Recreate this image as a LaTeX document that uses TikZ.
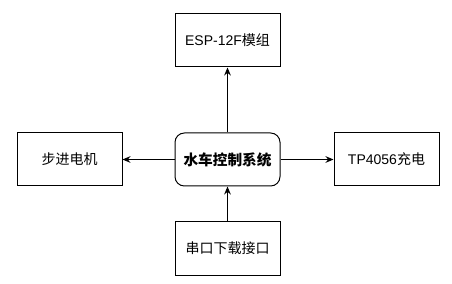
\documentclass[tikz,border=0pt]{standalone}
\usepackage{fontspec}
\setmainfont{Liberation Sans}
\newfontfamily\cjk{Noto Sans CJK SC}
\usetikzlibrary{arrows.meta}
\begin{document}
\begin{tikzpicture}[x=0.75pt,y=-0.75pt,
  blk/.style={draw=black,line width=0.75pt,minimum width=105*0.75pt,minimum height=53*0.75pt,inner sep=0pt,font=\fontsize{10.5pt}{12pt}\selectfont},
  ctr/.style={blk,rounded corners=7pt,font=\fontsize{11pt}{13pt}\selectfont\bfseries},
  arr/.style={draw=black,line width=0.75pt,-{Stealth[length=6pt,width=5pt]}}]
\useasboundingbox (0,0) rectangle (452,284);
\node[ctr] (c) at (227.5,159.5) {\cjk 水车控制系统};
\node[blk] (t) at (227.5,40.5) {ESP-12F{\cjk 模组}};
\node[blk] (l) at (69.5,159.5) {\cjk 步进电机};
\node[blk] (r) at (386.5,159.5) {TP4056{\cjk 充电}};
\node[blk] (b) at (227.5,248.5) {\cjk 串口下载接口};
\draw[arr] (c) -- (t);
\draw[arr] (c) -- (l);
\draw[arr] (c) -- (r);
\draw[arr] (b) -- (c);
\end{tikzpicture}
\end{document}
